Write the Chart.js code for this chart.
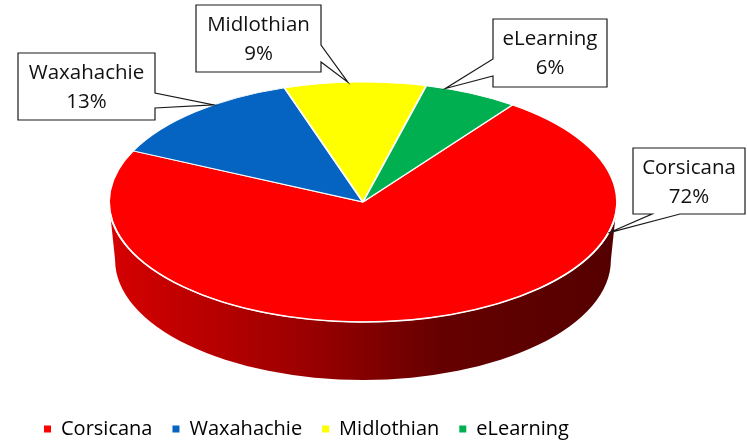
<!DOCTYPE html>
<html>
<head>
<meta charset="utf-8">
<script src="https://cdn.jsdelivr.net/npm/chart.js@4.4.1/dist/chart.umd.min.js"></script>
<style>
  html, body { margin: 0; padding: 0; background: #fff; overflow: hidden; }
  #wrap { width: 747px; height: 443px; overflow: hidden; }
</style>
</head>
<body>
<div id="wrap"><canvas id="chart" width="747" height="449"></canvas></div>
<script>
const campuses = ["Corsicana", "Waxahachie", "Midlothian", "eLearning"];
const shares = [72, 13, 9, 6];
const sliceColors = ["#FF0000", "#0563C1", "#FFFF00", "#00B050"];

// where the flattened pie sits on the page, to fake the 3D look
const disc = { cx: 363, cy: 202, rx: 254, ry: 120, depth: 58, bottomScale: 0.976 };

// callout boxes (same order as campuses); edge = side carrying the pointer,
// from/to = pointer base on that edge, along = where on the slice the pointer lands (0..1)
const callouts = [
  { x: 633, y: 148, w: 112, h: 66, edge: "bottom", from: 652, to: 680, along: 0.266 },
  { x: 18, y: 53, w: 137, h: 67, edge: "right", from: 93, to: 108, along: 0.615 },
  { x: 196, y: 5, w: 125, h: 67, edge: "right", from: 45, to: 62, along: 0.45 },
  { x: 493, y: 19, w: 114, h: 68, edge: "left", from: 59, to: 76, along: 0.21 }
];

const labelFont = "20.5px 'Open Sans'";

function shade(hex, f) {
  const n = parseInt(hex.slice(1), 16);
  const r = Math.round(((n >> 16) & 255) * f);
  const g = Math.round(((n >> 8) & 255) * f);
  const b = Math.round((n & 255) * f);
  return `rgb(${r},${g},${b})`;
}

function rimPoint(a) {
  return { x: disc.cx + disc.rx * Math.cos(a), y: disc.cy + disc.ry * Math.sin(a) };
}

function drawWalls(ctx, arcs) {
  const { cx, cy, rx, ry, depth, bottomScale } = disc;
  arcs.forEach((arc, i) => {
    for (let k = -1; k <= 1; k++) {
      const lo = Math.max(arc.startAngle + k * 2 * Math.PI, 0);
      const hi = Math.min(arc.endAngle + k * 2 * Math.PI, Math.PI);
      if (hi <= lo) continue;
      const grad = ctx.createLinearGradient(cx - rx, 0, cx + rx, 0);
      grad.addColorStop(0, shade(sliceColors[i], 0.84));
      grad.addColorStop(0.4, shade(sliceColors[i], 0.6));
      grad.addColorStop(0.65, shade(sliceColors[i], 0.4));
      grad.addColorStop(1, shade(sliceColors[i], 0.33));
      ctx.beginPath();
      ctx.ellipse(cx, cy, rx, ry, 0, lo, hi, false);
      ctx.ellipse(cx, cy + depth, rx * bottomScale, ry, 0, hi, lo, true);
      ctx.closePath();
      ctx.fillStyle = grad;
      ctx.fill();
    }
  });
}

function drawCallout(ctx, c, tip, lines) {
  const { x, y, w, h } = c;
  ctx.beginPath();
  ctx.moveTo(x, y);
  ctx.lineTo(x + w, y);
  if (c.edge === "right") {
    ctx.lineTo(x + w, c.from);
    ctx.lineTo(tip.x, tip.y);
    ctx.lineTo(x + w, c.to);
  }
  ctx.lineTo(x + w, y + h);
  if (c.edge === "bottom") {
    ctx.lineTo(c.to, y + h);
    ctx.lineTo(tip.x, tip.y);
    ctx.lineTo(c.from, y + h);
  }
  ctx.lineTo(x, y + h);
  if (c.edge === "left") {
    ctx.lineTo(x, c.to);
    ctx.lineTo(tip.x, tip.y);
    ctx.lineTo(x, c.from);
  }
  ctx.closePath();
  ctx.fillStyle = "#fff";
  ctx.fill();
  ctx.lineWidth = 1.2;
  ctx.strokeStyle = "#1a1a1a";
  ctx.stroke();

  ctx.fillStyle = "#111";
  ctx.font = labelFont;
  ctx.textAlign = "center";
  ctx.textBaseline = "middle";
  ctx.fillText(lines[0], x + w / 2, y + 20.5);
  ctx.fillText(lines[1], x + w / 2, y + 49.5);
}

const pie3d = {
  id: "pie3d",
  beforeDatasetsDraw(chart) {
    const ctx = chart.ctx;
    const arcs = chart.getDatasetMeta(0).data;
    drawWalls(ctx, arcs);
    // squash the library's round pie into the top ellipse
    const r = arcs[0].outerRadius;
    ctx.save();
    ctx.translate(disc.cx, disc.cy);
    ctx.scale(disc.rx / r, disc.ry / r);
    ctx.translate(-arcs[0].x, -arcs[0].y);
  },
  afterDatasetsDraw(chart) {
    const ctx = chart.ctx;
    ctx.restore();
    const arcs = chart.getDatasetMeta(0).data;

    // light edge between top and wall
    ctx.beginPath();
    ctx.ellipse(disc.cx, disc.cy, disc.rx, disc.ry, 0, 0.02, Math.PI - 0.02, false);
    ctx.lineWidth = 1.6;
    ctx.strokeStyle = "rgba(255,255,255,0.95)";
    ctx.stroke();

    const total = shares.reduce((a, b) => a + b, 0);
    arcs.forEach((arc, i) => {
      const c = callouts[i];
      const a = arc.startAngle + c.along * (arc.endAngle - arc.startAngle);
      const tip = rimPoint(a);
      drawCallout(ctx, c, tip, [campuses[i], Math.round(shares[i] / total * 100) + "%"]);
    });
  }
};

new Chart(document.getElementById("chart"), {
  type: "pie",
  data: {
    labels: campuses,
    datasets: [{
      data: shares,
      backgroundColor: sliceColors,
      borderColor: "#fff",
      borderWidth: 1.5,
      clip: false
    }]
  },
  options: {
    responsive: false,
    devicePixelRatio: 1,
    animation: false,
    events: [],
    rotation: 36,
    layout: { padding: { left: 24, right: 0, top: 0, bottom: 0 } },
    plugins: {
      tooltip: { enabled: false },
      legend: {
        position: "bottom",
        align: "start",
        labels: {
          boxWidth: 7,
          boxHeight: 7,
          padding: 20,
          color: "#111",
          font: { family: "'Open Sans'", size: 20 },
          generateLabels: () => campuses.map((name, i) => ({
            text: name,
            fillStyle: sliceColors[i],
            strokeStyle: sliceColors[i],
            lineWidth: 0,
            hidden: false,
            index: i
          }))
        }
      }
    }
  },
  plugins: [pie3d]
});
</script>
</body>
</html>
